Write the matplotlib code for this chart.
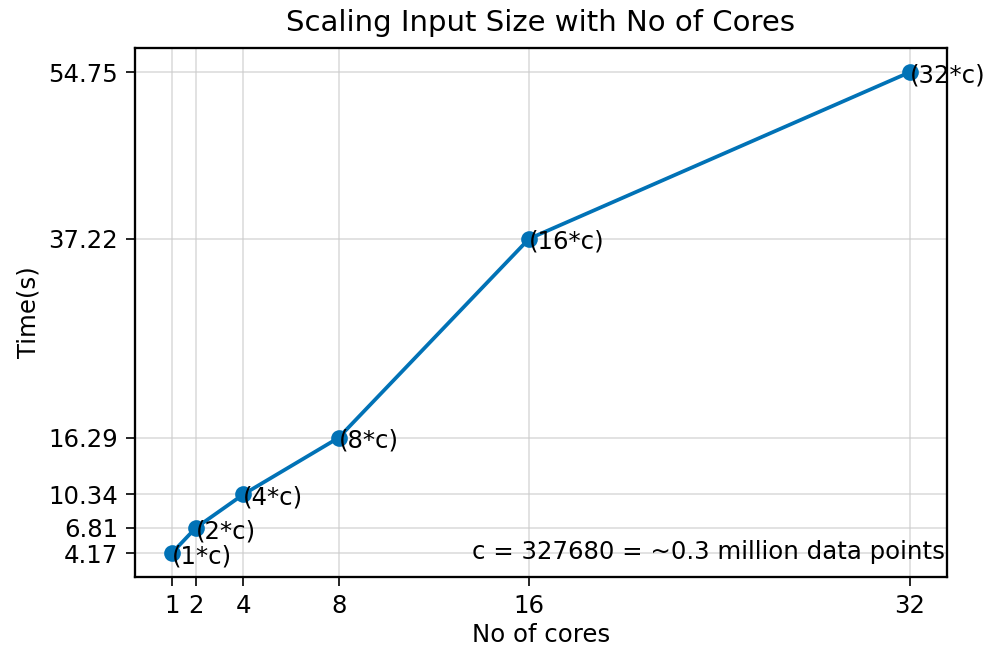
import matplotlib
matplotlib.use('Agg')
import matplotlib.pyplot as plt

# 数据：核心数与运行时间
cores = [1, 2, 4, 8, 16, 32]
times = [4.17, 6.81, 10.34, 16.29, 37.22, 54.75]
labels = ["(1*c)", "(2*c)", "(4*c)", "(8*c)", "(16*c)", "(32*c)"]
note = "c = 327680 = ~0.3 million data points"

FS = 11.7

fig = plt.figure(figsize=(988 / 150, 647 / 150), dpi=150)
ax = fig.add_axes([0.1366, 0.108, 0.8219, 0.8178])

ax.plot(cores, times, color='#0172B6', linewidth=1.8, marker='o', markersize=7)
for x, y, lab in zip(cores, times, labels):
    ax.annotate(lab, (x, y), xytext=(0, -1.5), textcoords='offset points',
                ha='left', va='center', fontsize=FS)

ax.set_xticks(cores)
ax.set_yticks(times)
ax.set_yticklabels([f"{t:.2f}" for t in times])
ax.tick_params(labelsize=FS, length=4.5)
ax.grid(True, color='#cccccc', alpha=0.6, linewidth=0.9)
ax.set_axisbelow(True)
for s in ax.spines.values():
    s.set_linewidth(1.1)

ax.text(0.997, 0.048, note, transform=ax.transAxes, ha='right', va='center', fontsize=FS)

ax.set_title("Scaling Input Size with No of Cores", fontsize=14, pad=8)
ax.set_xlabel("No of cores", fontsize=FS, labelpad=2.3)
ax.set_ylabel("Time(s)", fontsize=FS)

fig.savefig("out.png", dpi=150)
plt.close(fig)
